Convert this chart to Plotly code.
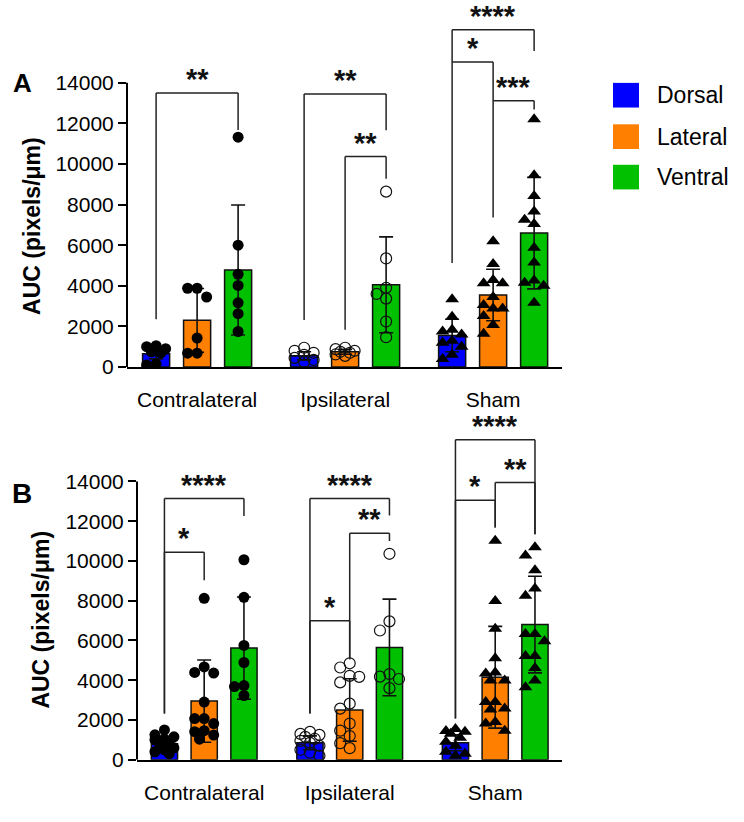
import plotly.graph_objects as go

W, H = 744, 822
FONT = "Liberation Sans, Arial, sans-serif"

groups = ["Contralateral", "Ipsilateral", "Sham"]
regions = ["Dorsal", "Lateral", "Ventral"]
colors = {"Dorsal": "#0000FF", "Lateral": "#FF8000", "Ventral": "#00C000"}
group_symbols = ["circle", "circle-open", "triangle-up"]
y_ticks = [0, 2000, 4000, 6000, 8000, 10000, 12000, 14000]
y_tick_labels = ["0", "2000", "4000", "6000", "8000", "10000", "12000", "14000"]

# ---------------- Panel A ----------------
A_means = {"Dorsal": [650, 550, 1550], "Lateral": [2300, 750, 3550], "Ventral": [4780, 4050, 6600]}
A_sd = {"Dorsal": [250, 200, 800], "Lateral": [1570, 120, 1270], "Ventral": [3200, 2360, 2750]}
A_points = {
    "Dorsal": [
        [1050, 1000, 900, 750, 700, 150, 100],
        [950, 800, 700, 600, 450, 350, 250],
        [3340, 2480, 1830, 1750, 1600, 1300, 1200, 1000, 600, 400],
    ],
    "Lateral": [
        [3880, 3880, 3450, 1430, 680, 680],
        [950, 880, 800, 750, 700, 620, 550],
        [6200, 5070, 4290, 4130, 4130, 3450, 3050, 2880, 2880, 2510, 2070, 1640],
    ],
    "Ventral": [
        [11320, 6000, 4570, 4020, 3160, 2630, 1750],
        [8640, 5350, 3900, 3600, 3370, 2240, 1470],
        [12200, 9450, 8420, 7660, 7260, 7050, 5880, 5150, 4260, 4150, 4000, 3160],
    ],
}
# (group, left bar, right bar, top, left leg end, right leg end, label)
A_brackets = [
    (0, 0, 2, 13500, 2350, 11680, "**"),
    (1, 0, 2, 13450, 2320, 11660, "**"),
    (1, 1, 2, 10370, 1830, 9280, "**"),
    (2, 0, 2, 16620, 5120, 15570, "****"),
    (2, 0, 1, 15030, 15030, 7370, "*"),
    (2, 1, 2, 13120, 13120, 12690, "***"),
]

# ---------------- Panel B ----------------
B_means = {"Dorsal": [800, 850, 850], "Lateral": [2950, 2500, 4150], "Ventral": [5620, 5650, 6800]}
B_sd = {"Dorsal": [350, 350, 400], "Lateral": [2070, 1570, 2560], "Ventral": [2570, 2430, 2430]}
B_points = {
    "Dorsal": [
        [1500, 1250, 1150, 1050, 1000, 850, 800, 600, 500, 400, 300],
        [1400, 1300, 1250, 1150, 1050, 950, 850, 700, 500, 350, 200],
        [1550, 1450, 1400, 1300, 1100, 900, 700, 400, 300, 200],
    ],
    "Lateral": [
        [8120, 4670, 4390, 4360, 2900, 2070, 2070, 1820, 1460, 1410, 1240, 1030],
        [4850, 4640, 4220, 4170, 3890, 2820, 2570, 1820, 1460, 1190, 830, 580],
        [11020, 7990, 6590, 5100, 4390, 4340, 3980, 3980, 2900, 2900, 2570, 2520, 1900, 1820, 1460],
    ],
    "Ventral": [
        [10060, 8170, 5750, 4890, 3730, 3680, 3230],
        [10360, 6960, 6500, 4310, 4180, 4060, 3600],
        [10690, 10270, 9530, 8620, 8250, 6330, 6330, 5960, 5220, 5220, 4610, 3980, 3650],
    ],
}
B_brackets = [
    (0, 0, 2, 13140, 2320, 12260, "****"),
    (0, 0, 1, 10440, 2320, 9030, "*"),
    (1, 0, 2, 13140, 2320, 12290, "****"),
    (1, 1, 2, 11400, 5050, 11000, "**"),
    (1, 0, 1, 6990, 2320, 5050, "*"),
    (2, 0, 2, 16100, 2070, 11350, "****"),
    (2, 0, 1, 13055, 2070, 11680, "*"),
    (2, 1, 2, 13950, 11680, 11350, "**"),
]

# ---------------- geometry ----------------
panels = [
    dict(name="A", means=A_means, sd=A_sd, points=A_points, brackets=A_brackets,
         xpx=(127, 562), ypx=(0, 372), xr=(-1.71, 8.90), ymax=18080, G=3.61,
         xa="x", ya="y", letter_xy=(22, 84), letter_size=26, title_xy=(32, 229)),
    dict(name="B", means=B_means, sd=B_sd, points=B_points, brackets=B_brackets,
         xpx=(137, 562), ypx=(405, 770), xr=(-1.69, 9.00), ymax=18120, G=3.66,
         xa="x2", ya="y2", letter_xy=(22, 500), letter_size=28, title_xy=(41, 628)),
]

BAR_W = 0.66
MARK = 11
CANDS = [0.0, -9.5, 9.5, -4.75, 4.75]


def swarm(vals, xppu, yppu, d):
    placed, offs = [], []
    for v in vals:
        yp = v * yppu
        best, best_score = 0.0, -1.0
        for xo in CANDS:
            dmin = min([((xo - px) ** 2 + (yp - py) ** 2) ** 0.5 for px, py in placed] or [1e9])
            if dmin >= d * 0.9:
                best = xo
                break
            if dmin > best_score:
                best, best_score = xo, dmin
        placed.append((best, yp))
        offs.append(best / xppu)
    return offs


fig = go.Figure()
shapes, annotations = [], []
layout_axes = {}

for p in panels:
    x0p, x1p = p["xpx"]
    ytop, ybot = p["ypx"]
    xppu = (x1p - x0p) / (p["xr"][1] - p["xr"][0])
    yppu = (ybot - ytop) / p["ymax"]
    centers = [g * p["G"] for g in range(3)]

    def xpos(g, k):
        return centers[g] + (k - 1)

    for k, r in enumerate(regions):
        fig.add_trace(go.Bar(
            x=[xpos(g, k) for g in range(3)], y=p["means"][r], width=BAR_W,
            marker=dict(color=colors[r], line=dict(color="#111111", width=1.5)),
            error_y=dict(type="data", array=p["sd"][r], visible=True, color="#111111",
                         thickness=1.6, width=7),
            xaxis=p["xa"], yaxis=p["ya"], showlegend=False, name=r,
        ))
    for k, r in enumerate(regions):
        for g in range(3):
            vals = p["points"][r][g]
            offs = swarm(vals, xppu, yppu, MARK)
            sym = group_symbols[g]
            if sym == "circle-open":
                marker = dict(symbol=sym, size=MARK, color="#111111", line=dict(width=1.2, color="#111111"))
            elif sym == "triangle-up":
                marker = dict(symbol=sym, size=MARK + 1, color="#000000", line=dict(width=0))
            else:
                marker = dict(symbol=sym, size=MARK, color="#000000", line=dict(width=0))
            fig.add_trace(go.Scatter(
                x=[xpos(g, k) + o for o in offs], y=vals, mode="markers", marker=marker,
                xaxis=p["xa"], yaxis=p["ya"], showlegend=False, hoverinfo="y",
            ))

    # brackets
    lab_off = 18 / yppu
    for (g, kl, kr, top, le, re_, lab) in p["brackets"]:
        xl, xr_ = xpos(g, kl), xpos(g, kr)
        line = dict(color="#222222", width=1.5)
        for (ax0, ay0, ax1, ay1) in [(xl, le, xl, top), (xl, top, xr_, top), (xr_, top, xr_, re_)]:
            shapes.append(dict(type="line", xref=p["xa"], yref=p["ya"], x0=ax0, y0=ay0,
                               x1=ax1, y1=ay1, line=line))
        annotations.append(dict(x=(xl + xr_) / 2, y=top + lab_off, xref=p["xa"], yref=p["ya"],
                                text="<b>%s</b>" % lab, showarrow=False, yshift=-4,
                                xanchor="center", yanchor="middle",
                                font=dict(family=FONT, size=29, color="#111111")))

    # y axis line
    shapes.append(dict(type="line", xref=p["xa"] + " domain", yref=p["ya"], x0=0, x1=0,
                       y0=0, y1=14000, line=dict(color="#000000", width=2)))

    # panel letter & axis title
    lx, ly = p["letter_xy"]
    annotations.append(dict(x=lx / W, y=1 - ly / H, xref="paper", yref="paper", text="<b>%s</b>" % p["name"],
                            showarrow=False, xanchor="center", yanchor="middle",
                            font=dict(family=FONT, size=p["letter_size"], color="#000000")))
    tx, ty = p["title_xy"]
    annotations.append(dict(x=tx / W, y=1 - ty / H, xref="paper", yref="paper",
                            text="<b>AUC (pixels/μm)</b>", textangle=-90, showarrow=False,
                            xanchor="center", yanchor="middle",
                            font=dict(family=FONT, size=23, color="#000000")))

    xa_key = "xaxis" if p["xa"] == "x" else "xaxis2"
    ya_key = "yaxis" if p["ya"] == "y" else "yaxis2"
    layout_axes[xa_key] = dict(
        domain=[x0p / W, x1p / W], range=list(p["xr"]), anchor=p["ya"],
        showline=True, linecolor="#000000", linewidth=2, showgrid=False, zeroline=False,
        tickvals=centers, ticktext=groups, ticks="", ticklabelstandoff=13,
        tickfont=dict(family=FONT, size=21, color="#000000"), fixedrange=True,
    )
    layout_axes[ya_key] = dict(
        domain=[1 - ybot / H, 1 - ytop / H], range=[0, p["ymax"]], anchor=p["xa"],
        showline=False, showgrid=False, zeroline=False,
        tickvals=y_ticks, ticktext=y_tick_labels,
        ticks="outside", ticklen=8, tickwidth=2, tickcolor="#000000",
        tickfont=dict(family=FONT, size=21, color="#000000"), fixedrange=True,
    )

# manual legend
leg_y = [84, 126, 167]
for r, yy in zip(regions, leg_y):
    shapes.append(dict(type="rect", xref="paper", yref="paper", x0=613 / W, x1=639 / W,
                       y0=1 - (yy + 25) / H, y1=1 - yy / H, fillcolor=colors[r],
                       line=dict(width=0)))
    annotations.append(dict(x=655 / W, y=1 - (yy + 12.5) / H, xref="paper", yref="paper",
                            text=r, showarrow=False, xanchor="left", yanchor="middle",
                            font=dict(family=FONT, size=23, color="#000000")))

fig.update_layout(
    width=W, height=H, margin=dict(l=0, r=0, t=0, b=0),
    paper_bgcolor="#FFFFFF", plot_bgcolor="#FFFFFF", barmode="overlay",
    shapes=shapes, annotations=annotations, showlegend=False,
    font=dict(family=FONT, color="#000000"),
    **layout_axes,
)

fig.write_html("out.html", config={"displayModeBar": False},
               post_script="document.body.style.margin='0';")
